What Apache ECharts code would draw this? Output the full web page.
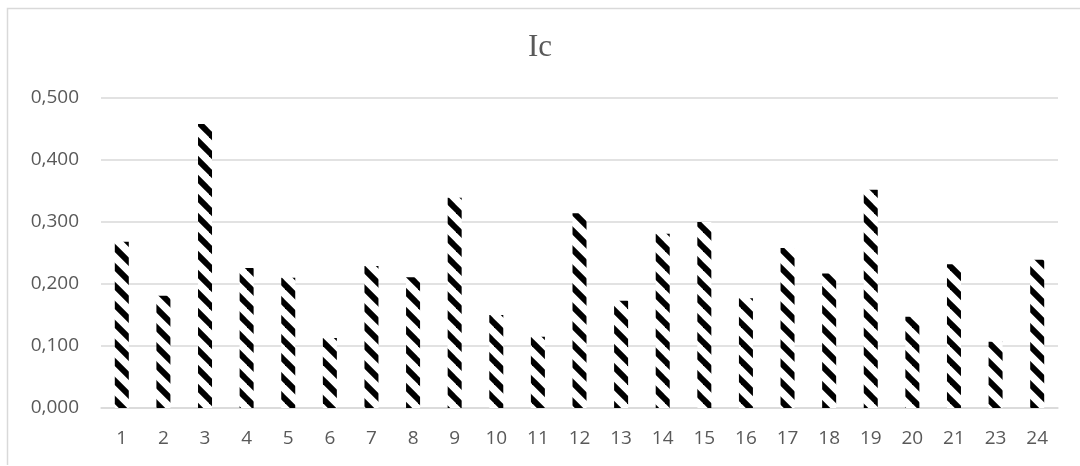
<!DOCTYPE html>
<html>
<head>
<meta charset="utf-8">
<script src="https://cdn.jsdelivr.net/npm/echarts@6/dist/echarts.min.js"></script>
<style>
html,body{margin:0;padding:0;background:#fff;}
#chart{width:1080px;height:466px;}
</style>
</head>
<body>
<div id="chart"></div>
<script>
const title = 'Ic';
const categories = ['1','2','3','4','5','6','7','8','9','10','11','12','13','14','15','16','17','18','19','20','21','23','24'];
const values = [0.268,0.181,0.458,0.226,0.210,0.113,0.229,0.211,0.339,0.150,0.115,0.314,0.173,0.281,0.300,0.177,0.258,0.217,0.352,0.147,0.232,0.107,0.239];

function makePattern(){
  const s = 19;
  const c = document.createElement('canvas');
  c.width = s; c.height = s;
  const g = c.getContext('2d');
  g.fillStyle = '#ffffff';
  g.fillRect(0,0,s,s);
  g.strokeStyle = '#000000';
  g.lineWidth = 6;
  for (let k=-1;k<=1;k++){
    g.beginPath();
    g.moveTo(-2, -2 + k*s);
    g.lineTo(s+2, s+2 + k*s);
    g.stroke();
  }
  return c;
}

const chart = echarts.init(document.getElementById('chart'), null, {renderer:'canvas'});
const labelFont = '"Open Sans", "Liberation Sans", sans-serif';
chart.setOption({
  animation:false,
  backgroundColor:'#ffffff',
  title:{
    text:title, left:'center', top:27,
    textStyle:{fontFamily:'"Liberation Serif", serif', fontSize:31, fontWeight:'normal', color:'#595959'}
  },
  graphic:[{
    type:'polyline',
    shape:{points:[[7.5,465],[7.5,8.5],[1081,8.5]]},
    style:{stroke:'#d9d9d9', lineWidth:1.5, fill:null},
    silent:true
  }],
  grid:{left:101, right:22, top:98, bottom:58, containLabel:false},
  xAxis:{
    type:'category', data:categories,
    axisLine:{lineStyle:{color:'#d9d9d9', width:1.5}},
    axisTick:{show:false},
    axisLabel:{color:'#595959', fontSize:19, fontFamily:labelFont, margin:21}
  },
  yAxis:{
    type:'value', min:0, max:0.5, interval:0.1,
    axisLine:{show:false}, axisTick:{show:false},
    splitLine:{lineStyle:{color:'#d9d9d9', width:1.5}},
    axisLabel:{color:'#595959', fontSize:19, fontFamily:labelFont, margin:22,
      formatter:function(v){return v.toFixed(3).replace('.', ',');}}
  },
  series:[{
    type:'bar', data:values, barWidth:14,
    itemStyle:{color:{image:makePattern(), repeat:'repeat'}}
  }]
});
</script>
</body>
</html>
